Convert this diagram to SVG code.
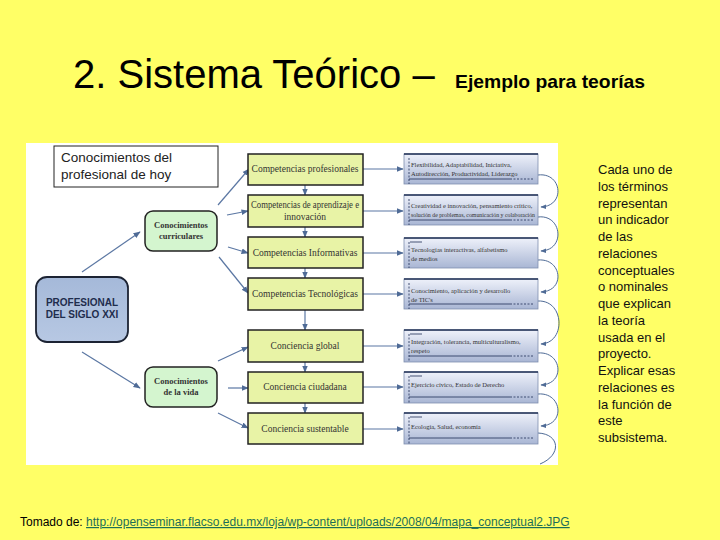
<svg xmlns="http://www.w3.org/2000/svg" width="720" height="540" viewBox="0 0 720 540">
<defs>
<marker id="ah" viewBox="0 0 10 10" refX="9" refY="5" markerWidth="6" markerHeight="6" orient="auto-start-reverse">
<path d="M0,1 L10,5 L0,9 Z" fill="#4f6b96"/>
</marker>
<linearGradient id="rg" x1="0" y1="0" x2="0" y2="1">
<stop offset="0" stop-color="#eef1fa"/>
<stop offset="1" stop-color="#a9b6d4"/>
</linearGradient>
<linearGradient id="pg" x1="0" y1="0" x2="0" y2="1">
<stop offset="0" stop-color="#a5b9d9"/>
<stop offset="1" stop-color="#b7c8e3"/>
</linearGradient>
</defs>
<style>
.conn{fill:none;stroke:#5b77a3;stroke-width:1.2;marker-end:url(#ah)}
.curve{fill:none;stroke:#4f6b96;stroke-width:1;marker-end:url(#ah)}
.mid{fill:#e8f3a6;stroke:#222;stroke-width:1.5}
.midt{font-family:"Liberation Serif",serif;font-size:9.5px;fill:#333;text-anchor:middle}
.rbox{fill:url(#rg);stroke:#7f8fae;stroke-width:0.8}
.rtop{stroke:#1f2f55;stroke-width:1.6}
.rt{font-family:"Liberation Serif",serif;font-size:6.5px;fill:#333}
.rl{stroke:#1f2f55;stroke-width:0.8}
.rd{stroke:#1f2f55;stroke-width:0.8;stroke-dasharray:2,1.5}
.kn{fill:#d4f5cf;stroke:#222;stroke-width:1.5}
.knt{font-family:"Liberation Serif",serif;font-size:8.5px;font-weight:bold;fill:#333;text-anchor:middle}
.side{font-family:"Liberation Sans",Arial,sans-serif;font-size:13px;fill:#111}
</style>
<rect width="720" height="540" fill="#ffff66"/>
<g id="title">
<text x="73" y="88" font-family="Liberation Sans,Arial,sans-serif" font-size="40" fill="#000">2. Sistema Teórico –</text>
<text x="455" y="88" font-family="Liberation Sans,Arial,sans-serif" font-size="19" font-weight="bold" fill="#000" textLength="190" lengthAdjust="spacingAndGlyphs">Ejemplo para teorías</text>
</g>
<rect x="26" y="143" width="532" height="322" fill="#ffffff"/>
<g id="caption">
<rect x="54" y="146" width="164" height="41" fill="#ffffff" stroke="#222" stroke-width="1"/>
<text x="61" y="162" font-family="Liberation Sans,Arial,sans-serif" font-size="13.5" fill="#222">Conocimientos del</text>
<text x="61" y="179" font-family="Liberation Sans,Arial,sans-serif" font-size="13.5" fill="#222">profesional de hoy</text>
</g>
<g id="connectors">
<path class="conn" d="M82,272 L140,232"/>
<path class="conn" d="M82,352 L140,388"/>
<path class="conn" d="M218,205 L249,169"/>
<path class="conn" d="M227,215 L248,211"/>
<path class="conn" d="M228,247 L248,253"/>
<path class="conn" d="M219,257 L248,293"/>
<path class="conn" d="M218,361 L248,347"/>
<path class="conn" d="M228,388 L248,388"/>
<path class="conn" d="M218,413 L248,428"/>
<path class="conn" d="M305,185 L305,195"/>
<path class="conn" d="M305,227 L305,237"/>
<path class="conn" d="M305,268 L305,278"/>
<path class="conn" d="M305,310 L305,330"/>
<path class="conn" d="M305,362 L305,372"/>
<path class="conn" d="M305,403 L305,413"/>
<path class="conn" d="M363,169 L403,169"/>
<path class="conn" d="M363,211 L403,211"/>
<path class="conn" d="M363,253 L403,253"/>
<path class="conn" d="M363,294 L403,294"/>
<path class="conn" d="M363,346 L403,346"/>
<path class="conn" d="M363,387 L403,387"/>
<path class="conn" d="M363,429 L403,429"/>
<path class="curve" d="M538,175 C562,172 566,206 541,207"/>
<path class="curve" d="M538,217 C562,214 566,250 541,251"/>
<path class="curve" d="M538,260 C562,258 566,291 541,292"/>
<path class="curve" d="M538,301 C565,300 566,343 541,344"/>
<path class="curve" d="M538,353 C562,351 566,384 541,385"/>
<path class="curve" d="M538,394 C562,392 566,425 541,426"/>
<path fill="none" stroke="#4f6b96" stroke-width="1" d="M538,433 C560,434 562,455 540,464"/>
</g>
<g id="profesional">
<rect x="36" y="277" width="92" height="65" rx="11" fill="url(#pg)" stroke="#1c2333" stroke-width="1.8"/>
<text x="82" y="306" font-family="Liberation Sans,Arial,sans-serif" font-size="10" font-weight="bold" fill="#1f2d4d" text-anchor="middle">PROFESIONAL</text>
<text x="82" y="318" font-family="Liberation Sans,Arial,sans-serif" font-size="10" font-weight="bold" fill="#1f2d4d" text-anchor="middle">DEL SIGLO XXI</text>
</g>
<g id="curriculares">
<rect class="kn" x="145" y="211" width="72" height="40" rx="8"/>
<text class="knt" x="181" y="228">Conocimientos</text>
<text class="knt" x="181" y="239">curriculares</text>
</g>
<g id="vida">
<rect class="kn" x="145" y="367" width="72" height="40" rx="8"/>
<text class="knt" x="181" y="384">Conocimientos</text>
<text class="knt" x="181" y="395">de la vida</text>
</g>
<g id="m1"><rect class="mid" x="248" y="154" width="115" height="31"/><text class="midt" x="305" y="172">Competencias profesionales</text></g>
<g id="m2"><rect class="mid" x="248" y="195" width="115" height="32"/><text class="midt" x="305" y="208" textLength="108" lengthAdjust="spacingAndGlyphs">Competencias de aprendizaje e</text><text class="midt" x="305" y="220">innovación</text></g>
<g id="m3"><rect class="mid" x="248" y="237" width="115" height="31"/><text class="midt" x="305" y="256">Competencias Informativas</text></g>
<g id="m4"><rect class="mid" x="248" y="278" width="115" height="32"/><text class="midt" x="305" y="297">Competencias Tecnológicas</text></g>
<g id="m5"><rect class="mid" x="248" y="330" width="115" height="32"/><text class="midt" x="305" y="349">Conciencia global</text></g>
<g id="m6"><rect class="mid" x="248" y="372" width="115" height="31"/><text class="midt" x="305" y="390">Conciencia ciudadana</text></g>
<g id="m7"><rect class="mid" x="248" y="413" width="115" height="31"/><text class="midt" x="305" y="432">Conciencia sustentable</text></g>
<g id="r1"><rect class="rbox" x="404" y="154" width="134" height="30"/><line class="rtop" x1="404" y1="154" x2="538" y2="154"/><line class="rd" x1="409" y1="158" x2="409" y2="184"/><text class="rt" x="411" y="167">Flexibilidad, Adaptabilidad, Iniciativa,</text><text class="rt" x="411" y="176">Autodirección, Productividad, Liderazgo</text><line class="rl" x1="409" y1="179" x2="510" y2="179"/><line class="rd" x1="510" y1="179" x2="534" y2="179"/></g>
<g id="r2"><rect class="rbox" x="404" y="195" width="134" height="30"/><line class="rtop" x1="404" y1="195" x2="538" y2="195"/><line class="rd" x1="409" y1="199" x2="409" y2="225"/><text class="rt" x="411" y="208">Creatividad e innovación, pensamiento crítico,</text><text class="rt" x="411" y="217" textLength="124" lengthAdjust="spacingAndGlyphs">solución de problemas, comunicación y colaboración</text><line class="rl" x1="409" y1="220" x2="510" y2="220"/><line class="rd" x1="510" y1="220" x2="534" y2="220"/></g>
<g id="r3"><rect class="rbox" x="404" y="238" width="134" height="30"/><line class="rtop" x1="404" y1="238" x2="538" y2="238"/><line class="rl" x1="410" y1="242" x2="422" y2="242"/><line class="rd" x1="409" y1="242" x2="409" y2="268"/><text class="rt" x="411" y="252">Tecnologías interactivas, alfabetismo</text><text class="rt" x="411" y="261">de medios</text></g>
<g id="r4"><rect class="rbox" x="404" y="279" width="134" height="30"/><line class="rtop" x1="404" y1="279" x2="538" y2="279"/><line class="rd" x1="409" y1="283" x2="409" y2="309"/><text class="rt" x="411" y="293">Conocimiento, aplicación y desarrollo</text><text class="rt" x="411" y="302">de TIC's</text><line class="rl" x1="409" y1="304" x2="510" y2="304"/><line class="rd" x1="510" y1="304" x2="534" y2="304"/></g>
<g id="r5"><rect class="rbox" x="404" y="330" width="134" height="32"/><line class="rtop" x1="404" y1="330" x2="538" y2="330"/><line class="rl" x1="410" y1="334" x2="422" y2="334"/><line class="rd" x1="409" y1="334" x2="409" y2="362"/><text class="rt" x="411" y="344">Integración, tolerancia, multiculturalismo,</text><text class="rt" x="411" y="353">respeto</text><line class="rl" x1="409" y1="356" x2="510" y2="356"/><line class="rd" x1="510" y1="356" x2="534" y2="356"/></g>
<g id="r6"><rect class="rbox" x="404" y="372" width="134" height="31"/><line class="rtop" x1="404" y1="372" x2="538" y2="372"/><line class="rl" x1="410" y1="376" x2="422" y2="376"/><line class="rd" x1="409" y1="376" x2="409" y2="403"/><text class="rt" x="411" y="387">Ejercicio cívico, Estado de Derecho</text><line class="rl" x1="409" y1="397" x2="510" y2="397"/><line class="rd" x1="510" y1="397" x2="534" y2="397"/></g>
<g id="r7"><rect class="rbox" x="404" y="413" width="134" height="31"/><line class="rtop" x1="404" y1="413" x2="538" y2="413"/><line class="rl" x1="410" y1="417" x2="422" y2="417"/><line class="rd" x1="409" y1="417" x2="409" y2="444"/><text class="rt" x="411" y="429">Ecología, Salud, economía</text><line class="rl" x1="409" y1="438" x2="510" y2="438"/><line class="rd" x1="510" y1="438" x2="534" y2="438"/></g>
<g id="side">
<text class="side" x="598" y="174">Cada uno de</text>
<text class="side" x="598" y="191">los términos</text>
<text class="side" x="598" y="208">representan</text>
<text class="side" x="598" y="224">un indicador</text>
<text class="side" x="598" y="241">de las</text>
<text class="side" x="598" y="258">relaciones</text>
<text class="side" x="598" y="275">conceptuales</text>
<text class="side" x="598" y="291">o nominales</text>
<text class="side" x="598" y="308">que explican</text>
<text class="side" x="598" y="325">la teoría</text>
<text class="side" x="598" y="342">usada en el</text>
<text class="side" x="598" y="358">proyecto.</text>
<text class="side" x="598" y="375">Explicar esas</text>
<text class="side" x="598" y="392">relaciones es</text>
<text class="side" x="598" y="409">la función de</text>
<text class="side" x="598" y="425">este</text>
<text class="side" x="598" y="442">subsistema.</text>
</g>
<g id="footer">
<text x="20" y="526" font-family="Liberation Sans,Arial,sans-serif" font-size="12" fill="#000">Tomado de: <tspan fill="#1d6e58" text-decoration="underline">http://openseminar.flacso.edu.mx/loja/wp-content/uploads/2008/04/mapa_conceptual2.JPG</tspan></text>
</g>
</svg>
